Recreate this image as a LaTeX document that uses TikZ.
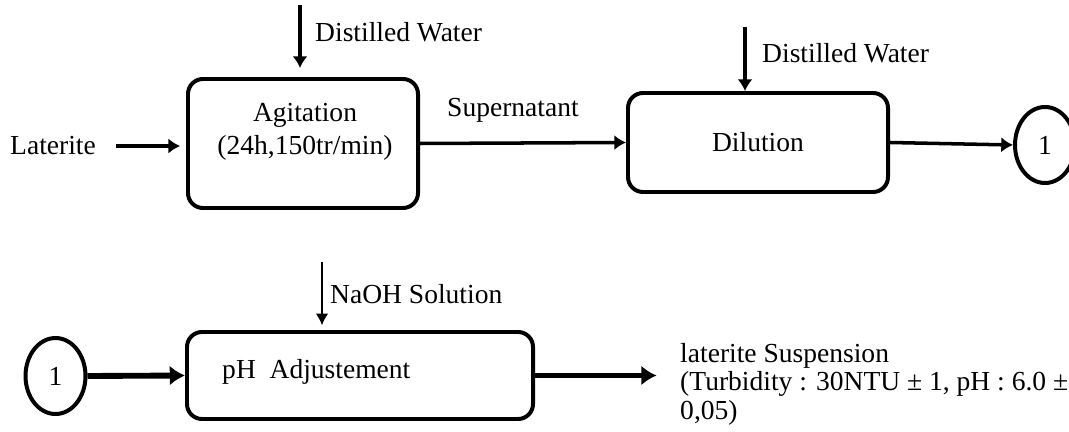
\documentclass[tikz,border=0pt]{standalone}
\usepackage{fontspec}
\setmainfont{Liberation Serif}
\usetikzlibrary{arrows.meta,shapes.geometric}
\tikzset{
	procbox/.style={draw, line width=3.4pt, rounded corners=0.45cm},
	linkcircle/.style={draw, ellipse, line width=3.4pt, minimum width=1.8cm, minimum height=2.28cm, inner sep=0pt},
	flowtext/.style={inner sep=0pt, anchor=base west},
	flowarrow/.style={line width=3pt, -{Latex[length=10pt,width=13pt]}},
	thinarrow/.style={line width=2.2pt, -{Latex[length=10pt,width=11pt]}},
	bigarrow/.style={line width=5pt, -{Latex[length=13pt,width=17pt]}},
}

\begin{document}
\begin{tikzpicture}[x=0.03cm, y=-0.03cm, font=\fontsize{23.5}{28}\selectfont]
			%%%%% START %%%%%
			
			\useasboundingbox (0, 0) rectangle (1069, 432);
			
			\node[procbox, minimum width=6.9cm, minimum height=3.87cm] (agitation) at (303, 143.5) {};
			\node[inner sep=0pt, anchor=north, align=center] (agitationtext) at (305, 103.5) {Agitation\\(24h,150tr/min)};
			\node[procbox, minimum width=7.8cm, minimum height=2.97cm] (dilution) at (758, 142.5) {Dilution};
			\node[linkcircle] (linkA) at (1045, 145) {1};
			
			\node[flowtext] (laterite) at (10, 155) {Laterite};
			\node[flowtext] (waterA) at (315, 42) {Distilled Water};
			\node[flowtext] (supernatant) at (447, 117) {Supernatant};
			\node[flowtext] (waterB) at (762, 63) {Distilled Water};
			
			\coordinate (waterAin) at (300, 5);
			\coordinate (waterBin) at (745, 27);
			
			\draw[flowarrow, shorten >=7.7pt] (waterAin) -- (agitation.north -| waterAin);
			\draw[flowarrow, shorten <=17pt, shorten >=5pt] (laterite.east) -- (laterite.east -| agitation.west);
			\draw[flowarrow] (agitation.east) -- (dilution.west);
			\draw[flowarrow] (waterBin) -- (dilution.north -| waterBin);
			\draw[flowarrow] (dilution.east) -- (linkA.west);
			
			\node[linkcircle] (linkB) at (55.5, 376) {1};
			\node[procbox, minimum width=10.38cm, minimum height=2.61cm] (ph) at (360, 375.5) {};
			\node[flowtext] (phtext) at (222, 378) {pH\ \ Adjustement};
			\node[flowtext] (naoh) at (330, 303) {NaOH Solution};
			\node[inner sep=0pt, anchor=north west, align=left, font=\fontsize{23.5}{24}\selectfont] (suspension) at (680, 343.5) {laterite Suspension\\(Turbidity : 30NTU ± 1, pH : 6.0 ±\\0,05)};
			
			\coordinate (naohin) at (322, 262);
			
			\draw[thinarrow, shorten >=4pt] (naohin) -- (ph.north -| naohin);
			\draw[bigarrow] (linkB.east) -- (ph.west);
			\draw[bigarrow, shorten >=20pt] (ph.east) -- (ph.east -| suspension.west);
			
			%%%%% END %%%%%
		\end{tikzpicture}
\end{document}
